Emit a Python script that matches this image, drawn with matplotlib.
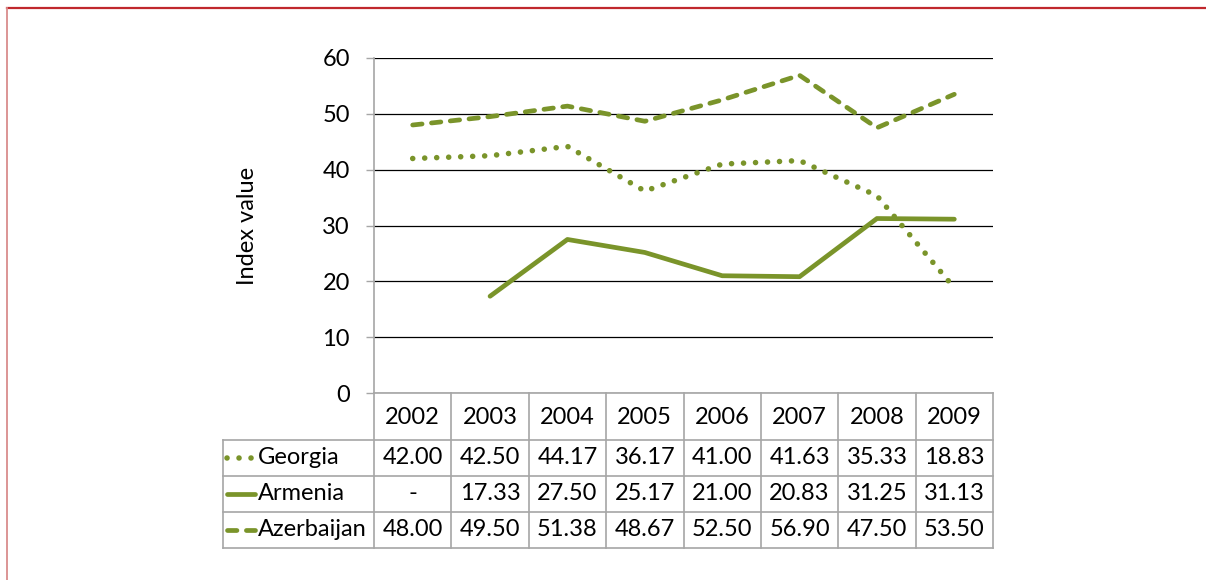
import numpy as np
import matplotlib
matplotlib.use("Agg")
import matplotlib.pyplot as plt
from matplotlib.lines import Line2D

plt.rcParams['font.family'] = ['Lato', 'DejaVu Sans']

years = ["2002", "2003", "2004", "2005", "2006", "2007", "2008", "2009"]
georgia = [42.00, 42.50, 44.17, 36.17, 41.00, 41.63, 35.33, 18.83]
armenia = [np.nan, 17.33, 27.50, 25.17, 21.00, 20.83, 31.25, 31.13]
azerbaijan = [48.00, 49.50, 51.38, 48.67, 52.50, 56.90, 47.50, 53.50]
series_names = ["Georgia", "Armenia", "Azerbaijan"]
y_ticks = [0, 10, 20, 30, 40, 50, 60]

W, H = 1206, 580
OLIVE = '#7A942A'
GRID_GRAY = '#A6A6A6'
FS = 17

styles = {
    "Georgia": dict(lw=4.0, linestyle=(0, (0.01, 2.15)), dash_capstyle='round'),
    "Armenia": dict(lw=3.4, linestyle='-', solid_capstyle='round'),
    "Azerbaijan": dict(lw=3.4, linestyle=(0, (2.0, 2.0)), dash_capstyle='round'),
}
values = {"Georgia": georgia, "Armenia": armenia, "Azerbaijan": azerbaijan}

fig = plt.figure(figsize=(W / 100, H / 100), dpi=100)
fig.patch.set_facecolor('white')


def fx(px):
    return px / W


def fy(py):
    return 1 - py / H


# page frame
fig.add_artist(Line2D([fx(7), 1.0], [fy(8), fy(8)], color='#C0282D', lw=1.6))
fig.add_artist(Line2D([fx(7), fx(7)], [fy(8), 0.0], color='#D98C8C', lw=1.3))

# plot area
left, right, top, bottom = 374, 993, 58, 393
ax = fig.add_axes([fx(left), fy(bottom), fx(right - left), (bottom - top) / H])
x = np.arange(len(years))
ax.set_xlim(-0.5, len(years) - 0.5)
ax.set_ylim(0, 60)
ax.set_yticks(y_ticks)
ax.set_xticks([])
for s in ['top', 'right']:
    ax.spines[s].set_visible(False)
for s in ['left', 'bottom']:
    ax.spines[s].set_color(GRID_GRAY)
    ax.spines[s].set_linewidth(1.2)
ax.yaxis.grid(True, color='black', lw=0.9)
ax.set_axisbelow(True)
ax.tick_params(axis='y', direction='out', length=5.8, width=1.0, color=GRID_GRAY,
               pad=11.5, labelsize=FS)
ax.set_ylabel("Index value", fontsize=FS)
ax.yaxis.set_label_coords(-0.188, 0.5)

for name in series_names:
    ax.plot(x, values[name], color=OLIVE, clip_on=False, **styles[name])

# data table below the plot
label_w = 151 / ((right - left) / len(years))
tab_left, tab_bottom = 223, 548
tab = fig.add_axes([fx(tab_left), fy(tab_bottom), fx(right - tab_left),
                    (tab_bottom - bottom) / H])
xl = -0.5 - label_w
tab.set_xlim(xl, len(years) - 0.5)
tab.set_ylim(tab_bottom, bottom)
tab.axis('off')

row_edges = [440, 476, 512, 548]
tkw = dict(color=GRID_GRAY, lw=1.2, clip_on=False)
for k in range(len(years) + 1):
    tab.plot([k - 0.5, k - 0.5], [bottom, tab_bottom], **tkw)
tab.plot([xl, xl], [row_edges[0], tab_bottom], **tkw)
for r in row_edges:
    tab.plot([xl, len(years) - 0.5], [r, r], **tkw)

for i, yr in enumerate(years):
    tab.text(i, (bottom + row_edges[0]) / 2 + 1, yr, ha='center', va='center', fontsize=FS)

for j, name in enumerate(series_names):
    yc = (row_edges[j] + row_edges[j + 1]) / 2
    tab.plot([xl + 0.05, xl + 0.41], [yc, yc], color=OLIVE, clip_on=False,
             **styles[name])
    tab.text(xl + 0.45, yc, name, ha='left', va='center', fontsize=FS)
    for i, v in enumerate(values[name]):
        txt = "-" if np.isnan(v) else f"{v:.2f}"
        tab.text(i, yc, txt, ha='center', va='center', fontsize=FS)

fig.savefig("out.png", dpi=100, facecolor='white')
